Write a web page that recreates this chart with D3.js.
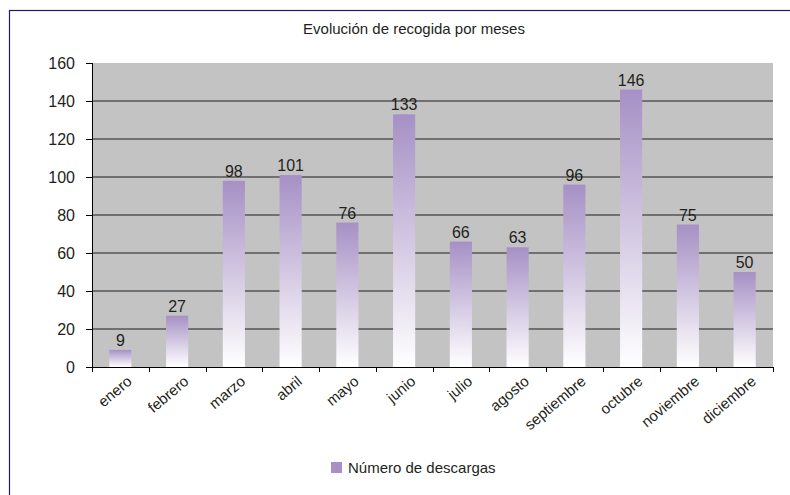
<!DOCTYPE html>
<html>
<head>
<meta charset="utf-8">
<script src="https://cdn.jsdelivr.net/npm/d3@7"></script>
<style>
body { margin: 0; background: #fff; }
svg text { font-family: "Liberation Sans", Arial, sans-serif; fill: #231f20; }
.grid line { stroke: #555; stroke-width: 1.5; }
.axis path, .axis line { stroke: #000; }
</style>
</head>
<body>
<div id="chart"></div>
<script>
// datos
var meses = ["enero", "febrero", "marzo", "abril", "mayo", "junio", "julio", "agosto", "septiembre", "octubre", "noviembre", "diciembre"];
var descargas = [9, 27, 98, 101, 76, 133, 66, 63, 96, 146, 75, 50];
var yTicks = [0, 20, 40, 60, 80, 100, 120, 140, 160];
var titulo = "Evolución de recogida por meses";
var serie = "Número de descargas";

var W = 790, H = 495;
var margin = {top: 63, right: 17, bottom: 128, left: 92},
    width = W - margin.left - margin.right,
    height = H - margin.top - margin.bottom;

var svg = d3.select("#chart").append("svg")
    .attr("width", W)
    .attr("height", H);

// marco
svg.append("rect")
    .attr("x", 9.5).attr("y", 10.5)
    .attr("width", 900).attr("height", 600)
    .attr("fill", "none")
    .attr("stroke", "#1f1a6b")
    .attr("stroke-width", 1.2);

var defs = svg.append("defs");
var grad = defs.append("linearGradient")
    .attr("id", "barGrad")
    .attr("x1", 0).attr("y1", 0).attr("x2", 0).attr("y2", 1);
grad.append("stop").attr("offset", "0%").attr("stop-color", "#a690c5");
grad.append("stop").attr("offset", "100%").attr("stop-color", "#ffffff");

svg.append("text")
    .attr("x", 414)
    .attr("y", 34)
    .attr("text-anchor", "middle")
    .style("font-size", "15px")
    .text(titulo);

var g = svg.append("g")
    .attr("transform", "translate(" + margin.left + "," + margin.top + ")");

var x = d3.scaleBand()
    .domain(meses)
    .range([0, width])
    .paddingInner(0.61)
    .paddingOuter(0.305);

var y = d3.scaleLinear()
    .domain([0, 160])
    .range([height, 0]);

g.append("rect")
    .attr("width", width)
    .attr("height", height)
    .attr("fill", "#c3c3c4");

g.append("g")
    .attr("class", "grid")
    .selectAll("line")
    .data(yTicks.filter(function(d) { return d > 0 && d < 160; }))
    .enter().append("line")
    .attr("x1", 0).attr("x2", width)
    .attr("y1", function(d) { return y(d); })
    .attr("y2", function(d) { return y(d); });

g.selectAll(".bar")
    .data(descargas)
    .enter().append("rect")
    .attr("class", "bar")
    .attr("x", function(d, i) { return x(meses[i]); })
    .attr("y", function(d) { return y(d); })
    .attr("width", x.bandwidth())
    .attr("height", function(d) { return height - y(d); })
    .attr("fill", "url(#barGrad)");

g.selectAll(".valor")
    .data(descargas)
    .enter().append("text")
    .attr("class", "valor")
    .attr("x", function(d, i) { return x(meses[i]) + x.bandwidth() / 2; })
    .attr("y", function(d) { return y(d) - 4; })
    .attr("text-anchor", "middle")
    .style("font-size", "16px")
    .text(function(d) { return d; });

// eje y
var yAxis = d3.axisLeft(y).tickValues(yTicks).tickSize(6).tickPadding(11);
var ya = g.append("g").attr("class", "axis").call(yAxis);
ya.select(".domain").attr("d", "M0.5," + height + "V0");
ya.selectAll("text").style("font-size", "16px").attr("dy", "0.36em");

// eje x: marcas en los limites de categoria
var step = x.step();
var xa = g.append("g").attr("class", "axis")
    .attr("transform", "translate(0," + height + ")");
xa.append("line")
    .attr("x1", 0).attr("x2", width)
    .attr("y1", 0.5).attr("y2", 0.5);
xa.selectAll(".tk")
    .data(d3.range(meses.length + 1))
    .enter().append("line")
    .attr("class", "tk")
    .attr("x1", function(i) { return Math.round(i * step) + 0.5; })
    .attr("x2", function(i) { return Math.round(i * step) + 0.5; })
    .attr("y1", 0).attr("y2", 5);

xa.selectAll(".lbl")
    .data(meses)
    .enter().append("text")
    .attr("class", "lbl")
    .attr("text-anchor", "end")
    .style("font-size", "15px")
    .attr("transform", function(d) {
        return "translate(" + (x(d) + x.bandwidth() / 2 + 12.5) + ",16) rotate(-40)";
    })
    .text(function(d) { return d; });

// leyenda
var leg = svg.append("g").attr("transform", "translate(331,462)");
leg.append("rect").attr("width", 11).attr("height", 11).attr("fill", "#a690c5");
leg.append("text").attr("x", 17).attr("y", 11).style("font-size", "15px").text(serie);
</script>
</body>
</html>
